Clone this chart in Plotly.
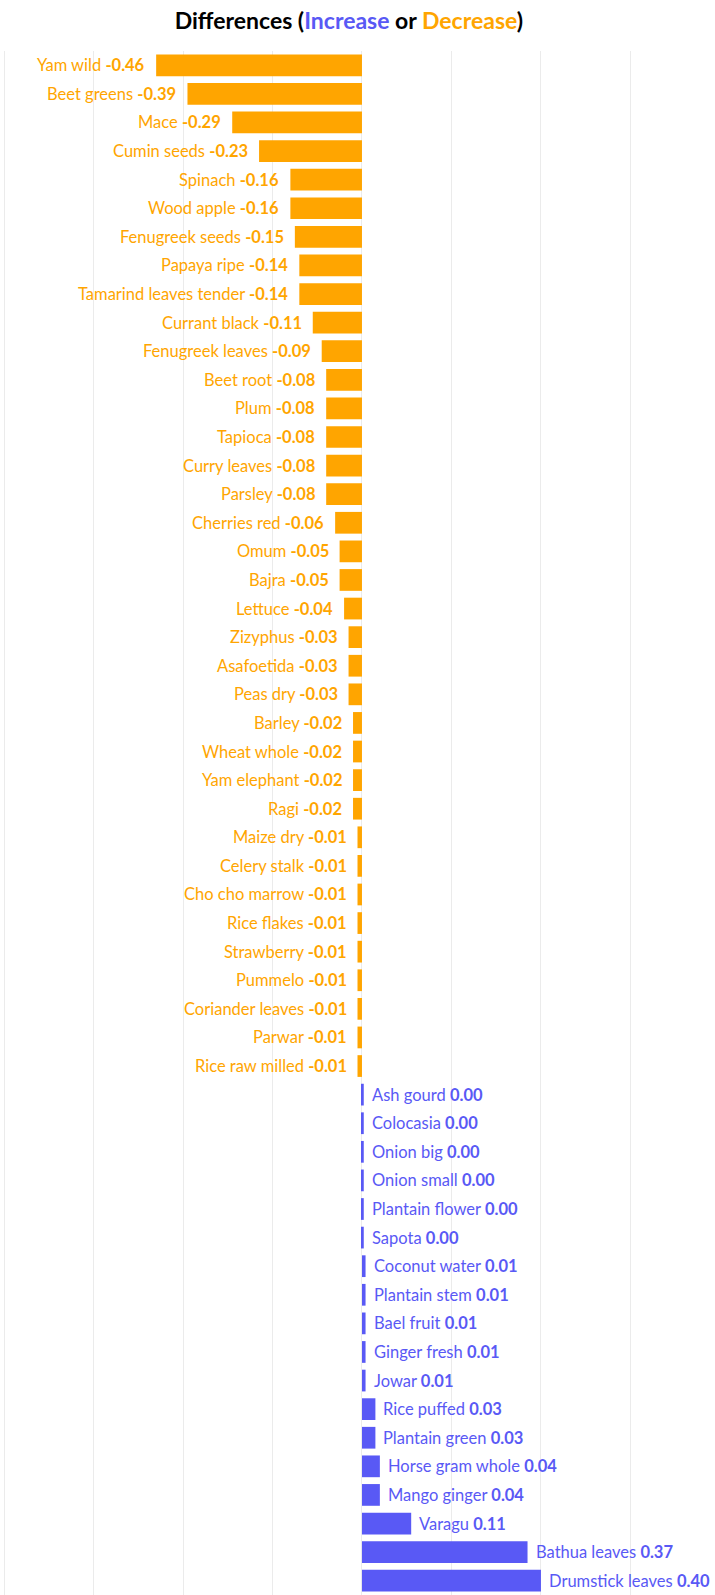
import plotly.graph_objects as go

names = [
    "Yam wild", "Beet greens", "Mace", "Cumin seeds", "Spinach", "Wood apple",
    "Fenugreek seeds", "Papaya ripe", "Tamarind leaves tender", "Currant black",
    "Fenugreek leaves", "Beet root", "Plum", "Tapioca", "Curry leaves", "Parsley",
    "Cherries red", "Omum", "Bajra", "Lettuce", "Zizyphus", "Asafoetida", "Peas dry",
    "Barley", "Wheat whole", "Yam elephant", "Ragi", "Maize dry", "Celery stalk",
    "Cho cho marrow", "Rice flakes", "Strawberry", "Pummelo", "Coriander leaves",
    "Parwar", "Rice raw milled",
    "Ash gourd", "Colocasia", "Onion big", "Onion small", "Plantain flower", "Sapota",
    "Coconut water", "Plantain stem", "Bael fruit", "Ginger fresh", "Jowar",
    "Rice puffed", "Plantain green", "Horse gram whole", "Mango ginger", "Varagu",
    "Bathua leaves", "Drumstick leaves",
]
values = [
    -0.46, -0.39, -0.29, -0.23, -0.16, -0.16,
    -0.15, -0.14, -0.14, -0.11,
    -0.09, -0.08, -0.08, -0.08, -0.08, -0.08,
    -0.06, -0.05, -0.05, -0.04, -0.03, -0.03, -0.03,
    -0.02, -0.02, -0.02, -0.02, -0.01, -0.01,
    -0.01, -0.01, -0.01, -0.01, -0.01,
    -0.01, -0.01,
    0.004, 0.004, 0.004, 0.004, 0.004, 0.004,
    0.008, 0.008, 0.008, 0.008, 0.008,
    0.03, 0.03, 0.04, 0.04, 0.11,
    0.37, 0.40,
]

ORANGE = "#FFA500"
BLUE = "#5959F5"
FONT = "Lato"

colors = [ORANGE if v < 0 else BLUE for v in values]

fig = go.Figure(
    go.Bar(
        x=values,
        y=names,
        orientation="h",
        marker=dict(color=colors, line=dict(width=0)),
        hoverinfo="skip",
        showlegend=False,
    )
)

annotations = []
for n, v, c in zip(names, values, colors):
    txt = f"{n} <b>{v:.2f}</b>"
    if v < 0:
        annotations.append(dict(
            x=v, y=n, xref="x", yref="y", text=txt, showarrow=False,
            xanchor="right", yanchor="middle", xshift=-9,
            font=dict(color=c, size=16.5, family=FONT),
        ))
    else:
        annotations.append(dict(
            x=v, y=n, xref="x", yref="y", text=txt, showarrow=False,
            xanchor="left", yanchor="middle", xshift=6,
            font=dict(color=c, size=16.5, family=FONT),
        ))

fig.update_layout(
    width=715,
    height=1595,
    margin=dict(l=0, r=0, t=51, b=0),
    paper_bgcolor="white",
    plot_bgcolor="white",
    bargap=0.24,
    title=dict(
        text=(f"<b>Differences (<span style='color:{BLUE}'>Increase</span> or "
              f"<span style='color:{ORANGE}'>Decrease</span>)</b>"),
        x=0.488, xanchor="center",
        y=1 - 21 / 1595, yanchor="middle", yref="container",
        font=dict(size=23, family=FONT, color="black"),
    ),
    xaxis=dict(
        range=[-0.809, 0.789],
        dtick=0.2, tick0=0,
        showticklabels=False,
        showgrid=True, gridcolor="#EBEBEB", gridwidth=1,
        zeroline=False, showline=False, ticks="",
        fixedrange=True,
    ),
    yaxis=dict(
        categoryorder="array", categoryarray=names,
        autorange="reversed",
        showticklabels=False, showgrid=False, zeroline=False, ticks="",
        fixedrange=True,
    ),
    annotations=annotations,
)

fig.write_html(
    "out.html",
    config={"displayModeBar": False},
    post_script="document.body.style.margin='0';document.body.style.overflow='hidden';",
)
